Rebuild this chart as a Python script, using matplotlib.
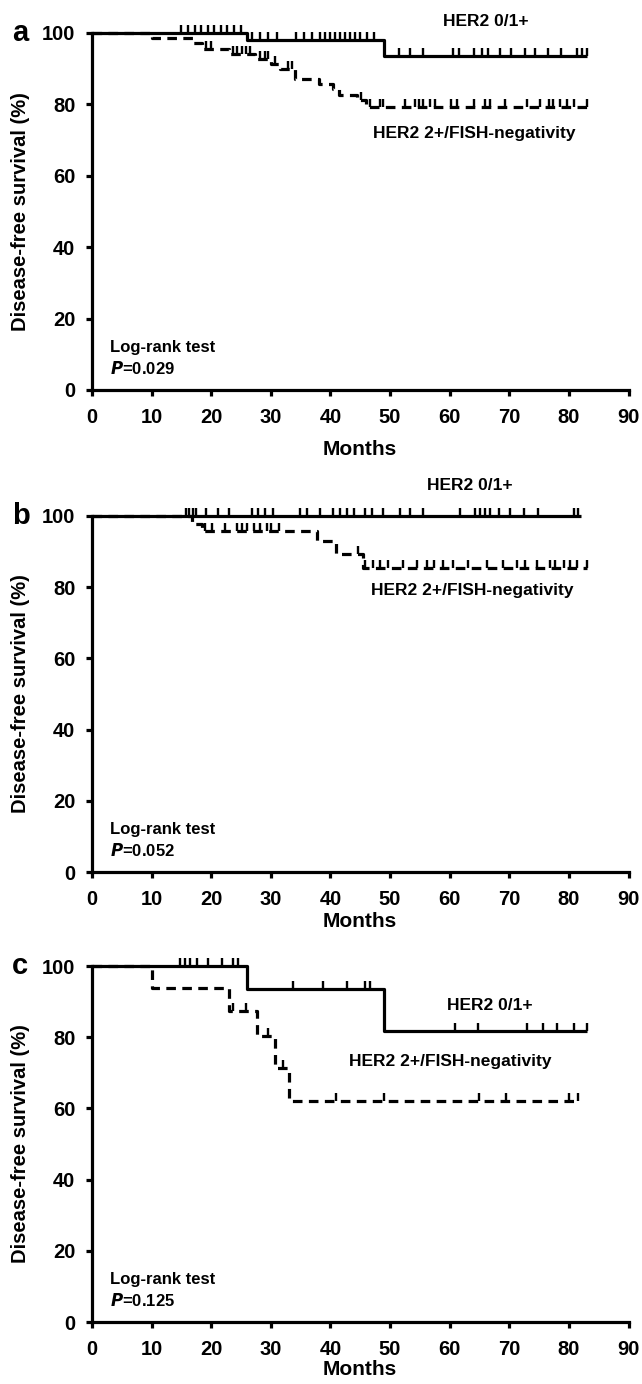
import matplotlib
matplotlib.use("Agg")
import matplotlib.pyplot as plt
import numpy as np

plt.rcParams['font.family'] = ['Liberation Sans', 'DejaVu Sans']
plt.rcParams['font.weight'] = 'bold'

# ---- panel a ----
a_solid_times = [26, 49]
a_solid_surv = [97.9, 93.6]
a_solid_end = 83
a_solid_cens = [15.0, 16.1, 17.2, 18.3, 19.4, 20.5, 21.6, 22.7, 23.9, 25.0,
                26.8, 28.2, 29.6, 31.0, 34.3, 35.5, 36.9, 38.3, 39.1, 39.9,
                40.8, 41.6, 42.4, 43.3, 44.1, 45.0, 46.1, 47.3,
                51.5, 53.4, 55.6, 60.5, 61.6, 64.0, 65.5, 66.5, 68.5, 70.3,
                72.7, 74.3, 76.5, 78.6, 81.3, 82.2, 83.0]
a_dash_times = [10, 17, 18.5, 23, 27.3, 30, 31.5, 34, 38, 40.5, 41.5, 44.5, 46]
a_dash_surv = [98.5, 97.1, 95.6, 94.2, 92.8, 91.4, 89.9, 87.2, 85.7, 84.2,
               82.7, 81.1, 79.4]
a_dash_end = 83
a_dash_cens = [19.2, 19.9, 23.7, 24.4, 25.1, 25.8, 26.5, 28.2, 29.0, 29.6,
               30.7, 32.9, 33.6, 45.2, 46.6, 48.3, 48.9, 52.5, 54.2, 54.8,
               55.6, 56.7, 57.5, 60.3, 61.2, 64.0, 65.9, 66.8, 69.3, 72.9,
               75.2, 76.6, 77.4, 78.5, 79.6, 80.8, 83.0]
a_p = "0.029"

# ---- panel b ----
b_solid_times = []
b_solid_surv = []
b_solid_end = 82
b_solid_cens = [15.8, 16.3, 16.9, 17.5, 19.2, 21.2, 22.9, 26.8, 27.9, 29.0,
                30.4, 34.9, 36.0, 38.3, 40.5, 41.6, 42.7, 43.9, 45.8, 46.9,
                48.9, 51.7, 53.4, 55.6, 61.7, 64.3, 65.1, 65.9, 66.8, 68.2,
                70.1, 72.4, 74.9, 80.8, 81.6]
b_dash_times = [16.7, 18.4, 37.7, 41.0, 45.4]
b_dash_surv = [97.7, 95.8, 93.0, 89.3, 85.5]
b_dash_end = 83
b_dash_cens = [19.0, 20.1, 22.3, 24.3, 25.1, 26.0, 27.1, 28.2, 29.3, 30.1,
               31.3, 44.7, 45.8, 47.2, 48.3, 49.7, 52.2, 54.5, 56.2, 57.3,
               58.9, 60.6, 63.1, 66.2, 69.0, 71.3, 72.7, 74.6, 76.8, 77.7,
               79.1, 80.2, 81.3, 83.0]
b_p = "0.052"

# ---- panel c ----
c_solid_times = [26, 49]
c_solid_surv = [93.5, 81.7]
c_solid_end = 83
c_solid_cens = [14.8, 15.6, 16.4, 17.6, 19.5, 21.8, 23.7, 24.5,
                33.8, 38.8, 42.7, 45.8, 46.6,
                60.9, 64.8, 72.9, 75.7, 78.0, 80.8, 83.0]
c_dash_times = [10, 23, 27.6, 30.7, 33]
c_dash_surv = [93.8, 87.5, 80.2, 71.3, 62.0]
c_dash_end = 81.5
c_dash_cens = [23.6, 25.8, 29.6, 32.1, 41.0, 49.0, 65.0, 69.5, 80.0, 81.5]
c_p = "0.125"

panels = [
    ("a", a_solid_times, a_solid_surv, a_solid_end, a_solid_cens,
     a_dash_times, a_dash_surv, a_dash_end, a_dash_cens, a_p),
    ("b", b_solid_times, b_solid_surv, b_solid_end, b_solid_cens,
     b_dash_times, b_dash_surv, b_dash_end, b_dash_cens, b_p),
    ("c", c_solid_times, c_solid_surv, c_solid_end, c_solid_cens,
     c_dash_times, c_dash_surv, c_dash_end, c_dash_cens, c_p),
]

# label positions (months, %) for the two group names
label_01 = [(66.1, 103.3), (63.4, 108.7), (66.8, 88.8)]
label_2p = [(64.1, 71.9), (63.8, 79.0), (60.1, 73.2)]

# axes boxes in pixels: (top, bottom)
W, H = 642, 1384
boxes = [(33, 390), (516, 872), (966, 1322)]
xlab_y = [-0.139, -0.112, -0.106]
x_left, x_right = 92, 628.5


def draw_km(ax, times, surv, end, cens, ls, z):
    t = np.concatenate([[0], times, [end]])
    s = np.concatenate([[100], surv, [surv[-1] if len(surv) else 100]])
    ax.plot(t, s, drawstyle='steps-post', color='black', lw=2.3,
            linestyle=ls, zorder=z, solid_capstyle='butt', clip_on=False)
    levels = np.concatenate([[100], surv])
    idx = np.searchsorted(np.asarray(times, dtype=float), cens, side='right')
    ax.plot(cens, levels[idx], ls='none', marker=2, ms=5.5, mew=1.7,
            color='black', zorder=z, clip_on=False)


fig = plt.figure(figsize=(W / 100, H / 100), dpi=100)

for i, (letter, st, ss, se, sc, dt, ds, de, dc, p) in enumerate(panels):
    top, bot = boxes[i]
    ax = fig.add_axes([x_left / W, 1 - bot / H, (x_right - x_left) / W,
                       (bot - top) / H])
    draw_km(ax, dt, ds, de, dc, (0, (3.0, 2.0)), 2)
    draw_km(ax, st, ss, se, sc, '-', 3)

    ax.set_xlim(0, 90)
    ax.set_ylim(0, 100)
    ax.set_xticks(np.arange(0, 91, 10))
    ax.set_yticks(np.arange(0, 101, 20))
    for sp in ['top', 'right']:
        ax.spines[sp].set_visible(False)
    for sp in ['left', 'bottom']:
        ax.spines[sp].set_linewidth(2.3)
    ax.tick_params(direction='out', length=4, width=2.3, labelsize=14.5,
                   pad=8)
    ax.tick_params(axis='x', pad=9)

    ax.set_xlabel('Months', fontsize=15, fontweight='bold')
    ax.xaxis.set_label_coords(0.5, xlab_y[i])
    ax.xaxis.label.set_va('top')
    ax.set_ylabel('Disease-free survival (%)', fontsize=14.5,
                  fontweight='bold')
    ax.yaxis.set_label_coords(-0.115, 0.5)

    ax.text(*label_01[i], 'HER2 0/1+', fontsize=12.5, ha='center',
            va='center', clip_on=False)
    ax.text(*label_2p[i], 'HER2 2+/FISH-negativity', fontsize=12.5,
            ha='center', va='center', clip_on=False)
    ax.text(3.1, 12, 'Log-rank test', fontsize=12, ha='left', va='center')
    ax.text(3.1, 6, r'$\mathbfit{P}$=' + p, fontsize=12, ha='left',
            va='center')

    fig.text(12 / W, 1 - (top + 8) / H, letter, fontsize=21,
             fontweight='bold', ha='left', va='baseline')

fig.savefig('out.png', dpi=100)
